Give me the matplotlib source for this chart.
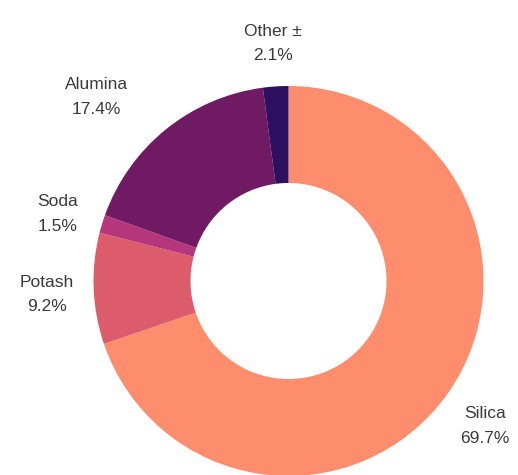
import numpy as np
import matplotlib
matplotlib.use("Agg")
import matplotlib.pyplot as plt

# composition of glass (percent)
names = ['Silica', 'Potash', 'Soda', 'Alumina', 'Other \u00b1']
values = [69.7, 9.2, 1.5, 17.4, 2.1]
colors = ['#fe8d6d', '#dc5c6b', '#b5367a', '#6f1a63', '#2d1160']

plt.rcParams['font.family'] = ['Liberation Sans', 'DejaVu Sans']

fig = plt.figure(figsize=(5.18, 4.75), dpi=100)
ax = fig.add_axes([0, 0, 1, 1])
ax.set_aspect('equal')
ax.axis('off')

cx, cy = 288.5, 194.0
r_out = 195.0
r_in = 98.0

wedges, _ = ax.pie(values, colors=colors, startangle=90, counterclock=False,
                   center=(cx, cy), radius=r_out, normalize=True,
                   wedgeprops=dict(width=r_out - r_in, linewidth=0))
ax.set_xlim(0, 518)
ax.set_ylim(0, 475)

# labels sit outside the ring at the middle of each wedge
nudge = {'Alumina': (-40, 0)}
for w, name, v in zip(wedges, names, values):
    theta = np.deg2rad((w.theta1 + w.theta2) / 2)
    lx = cx + 242 * np.cos(theta)
    ly = cy + 242 * np.sin(theta) - 4
    dx, dy = nudge.get(name, (0, 0))
    ax.text(lx + dx, ly + dy, name + '\n' + ('%.1f%%' % v), ha='center', va='center',
            fontsize=12.5, color='#3a3a3a', linespacing=1.8)

fig.savefig('out.png', dpi=100)
